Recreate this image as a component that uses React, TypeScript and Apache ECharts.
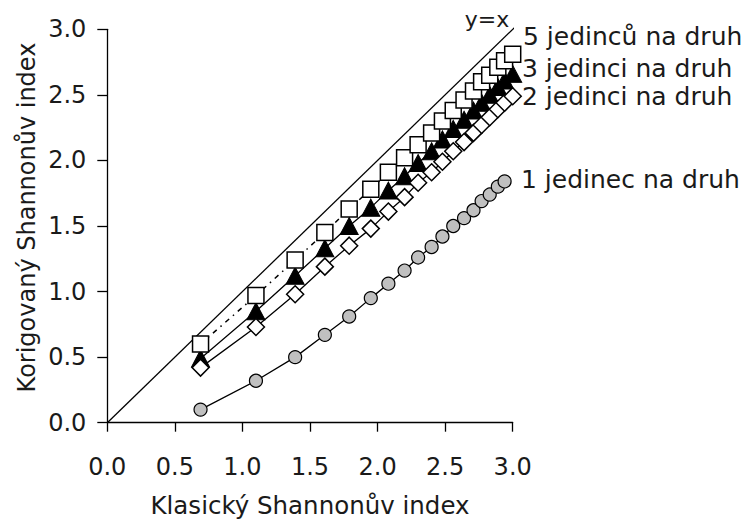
import React, { useEffect, useRef } from "react";
import * as echarts from "echarts";

// Classic Shannon index (x) for 2..20 species
const classicIndex = [0.69, 1.10, 1.39, 1.61, 1.79, 1.95, 2.08, 2.20, 2.30, 2.40, 2.48, 2.56, 2.64, 2.71, 2.77, 2.83, 2.89, 2.94, 3.00];

// Corrected Shannon index per sampling scenario
const five = [0.60, 0.97, 1.24, 1.45, 1.63, 1.78, 1.91, 2.02, 2.12, 2.21, 2.30, 2.38, 2.46, 2.53, 2.60, 2.65, 2.71, 2.76, 2.81];
const three = [0.49, 0.85, 1.12, 1.33, 1.50, 1.64, 1.77, 1.88, 1.98, 2.07, 2.16, 2.24, 2.31, 2.38, 2.44, 2.50, 2.56, 2.61, 2.66];
const two = [0.42, 0.73, 0.98, 1.19, 1.35, 1.48, 1.61, 1.72, 1.83, 1.91, 1.99, 2.07, 2.14, 2.21, 2.27, 2.33, 2.39, 2.44, 2.49];
const one = [0.10, 0.32, 0.50, 0.67, 0.81, 0.95, 1.06, 1.16, 1.26, 1.34, 1.42, 1.50, 1.56, 1.62, 1.69, 1.74, 1.80, 1.84];

const identityLine = [0, 3.09];

const seriesNames = ["5 jedinců na druh", "3 jedinci na druh", "2 jedinci na druh", "1 jedinec na druh"];
const xTitle = "Klasický Shannonův index";
const yTitle = "Korigovaný Shannonův index";
const identityLabel = "y=x";

const FONT = "DejaVu Sans";
const TXT = "#1a1a1a";

function pairs(ys: number[]) {
  return ys.map((y, i) => [classicIndex[i], y]);
}

export default function App() {
  const ref = useRef<HTMLDivElement>(null);
  useEffect(() => {
    if (!ref.current) return;
    const chart = echarts.init(ref.current, undefined, { renderer: "svg" });
    const textStyle = { fontFamily: FONT, fontSize: 24, fill: TXT };
    chart.setOption({
      animation: false,
      backgroundColor: "#ffffff",
      grid: { left: 107.3, right: 235.3, top: 29.3, bottom: 98.3 },
      xAxis: {
        type: "value",
        min: 0,
        max: 3,
        interval: 0.5,
        axisLine: { show: true, lineStyle: { color: "#000", width: 1.3 } },
        axisTick: { show: true, length: 9, lineStyle: { color: "#000", width: 1.3 } },
        axisLabel: {
          formatter: (v: number) => v.toFixed(1),
          fontFamily: FONT,
          fontSize: 24,
          color: TXT,
          margin: 44,
          verticalAlign: "middle",
        },
        splitLine: { show: false },
      },
      yAxis: {
        type: "value",
        min: 0,
        max: 3,
        interval: 0.5,
        axisLine: { show: true, lineStyle: { color: "#000", width: 1.3 } },
        axisTick: { show: true, length: 10, lineStyle: { color: "#000", width: 1.3 } },
        axisLabel: {
          formatter: (v: number) => v.toFixed(1),
          fontFamily: FONT,
          fontSize: 24,
          color: TXT,
          margin: 21,
        },
        splitLine: { show: false },
      },
      series: [
        {
          type: "line",
          data: identityLine.map((v) => [v, v]),
          clip: false,
          showSymbol: false,
          symbol: "none",
          lineStyle: { color: "#000", width: 1.3 },
          z: 1,
        },
        {
          name: seriesNames[1],
          type: "line",
          data: pairs(three),
          symbol: "triangle",
          symbolSize: [18, 17],
          itemStyle: { color: "#000", borderColor: "#000", borderWidth: 1 },
          lineStyle: { color: "#000", width: 1.3 },
          z: 2,
        },
        {
          name: seriesNames[2],
          type: "line",
          data: pairs(two),
          symbol: "diamond",
          symbolSize: 17,
          itemStyle: { color: "#fff", borderColor: "#000", borderWidth: 1.5 },
          lineStyle: { color: "#000", width: 1.3 },
          z: 3,
        },
        {
          name: seriesNames[0],
          type: "line",
          data: pairs(five),
          symbol: "rect",
          symbolSize: 16,
          itemStyle: { color: "#fff", borderColor: "#000", borderWidth: 1.5 },
          lineStyle: { color: "#000", width: 1.5, type: [5, 5, 1.5, 5] },
          z: 4,
        },
        {
          name: seriesNames[3],
          type: "line",
          data: pairs(one),
          symbol: "circle",
          symbolSize: 13,
          itemStyle: { color: "#c0c0c0", borderColor: "#000", borderWidth: 1.2 },
          lineStyle: { color: "#000", width: 1.3 },
          z: 3,
        },
      ],
      graphic: [
        { type: "text", x: 310, y: 505.7, style: { ...textStyle, fontSize: 24.5, text: xTitle, align: "center", verticalAlign: "middle" } },
        { type: "text", x: 27, y: 217.5, rotation: Math.PI / 2, style: { ...textStyle, text: yTitle, align: "center", verticalAlign: "middle" } },
        { type: "text", x: 487, y: 19.5, style: { ...textStyle, fontSize: 22, text: identityLabel, align: "center", verticalAlign: "middle" } },
        { type: "text", x: 523, y: 36, style: { ...textStyle, fontSize: 25, text: seriesNames[0], align: "left", verticalAlign: "middle" } },
        { type: "text", x: 522, y: 68, style: { ...textStyle, fontSize: 25, text: seriesNames[1], align: "left", verticalAlign: "middle" } },
        { type: "text", x: 522, y: 96, style: { ...textStyle, fontSize: 25, text: seriesNames[2], align: "left", verticalAlign: "middle" } },
        { type: "text", x: 521, y: 179, style: { ...textStyle, fontSize: 25, text: seriesNames[3], align: "left", verticalAlign: "middle" } },
      ],
    });
    return () => chart.dispose();
  }, []);
  return <div ref={ref} style={{ width: 748, height: 521, position: "absolute", left: 0, top: 0 }} />;
}
